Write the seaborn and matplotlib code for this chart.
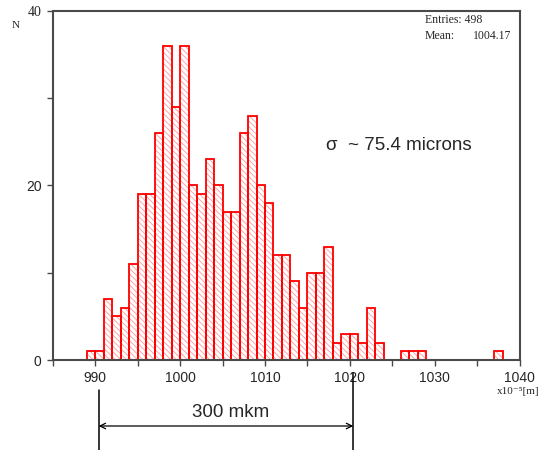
import numpy as np
import pandas as pd
import matplotlib
matplotlib.use("Agg")
import matplotlib.pyplot as plt
from matplotlib.ticker import MultipleLocator
import seaborn as sns

# ── Data (1-unit bins) ───────────────────────────────────────────────────────
bin_left = [989, 990, 991, 992, 993, 994, 995, 996, 997, 998, 999, 1000,
            1001, 1002, 1003, 1004, 1005, 1006, 1007, 1008, 1009, 1010,
            1011, 1012, 1013, 1014, 1015, 1016, 1017, 1018, 1019, 1020,
            1021, 1022, 1023, 1026, 1027, 1028, 1037]
counts = [1, 1, 7, 5, 6, 11, 19, 19, 26, 36, 29, 36,
          20, 19, 23, 20, 17, 17, 26, 28, 20, 18,
          12, 12, 9, 6, 10, 10, 13, 2, 3, 3,
          2, 6, 2, 1, 1, 1, 1]
x_range = (985, 1040)
entries = 498
mean_val = 1004.17
sigma_text = "σ  ~ 75.4 microns"
span_left, span_right = 990.4, 1020.4
span_text = "300 mkm"

df = pd.DataFrame({"x": np.array(bin_left, dtype=float) + 0.5,
                   "n": np.array(counts, dtype=float)})
edges = list(range(x_range[0], x_range[1] + 1))

RED = "#ff0000"
HATCH_RED = "#ff9a9a"
SPINE = "#4a4a4a"

sns.set_style("ticks")
plt.rcParams["font.family"] = ["Liberation Sans", "DejaVu Sans"]
plt.rcParams["hatch.linewidth"] = 0.6

fig = plt.figure(figsize=(5.39, 4.5), dpi=100)
ax = fig.add_axes([0.098, 0.2, 0.866, 0.776])

# hatched fill (light red), then the red outlines on top
sns.histplot(data=df, x="x", weights="n", bins=edges, ax=ax,
             color="white", alpha=1)
for p in ax.patches:
    p.set_edgecolor(HATCH_RED)
    p.set_hatch("\\" * 6)
    p.set_linewidth(0.4)
sns.histplot(data=df, x="x", weights="n", bins=edges, ax=ax,
             fill=False, color=RED, linewidth=1.3)

ax.set_xlim(*x_range)
ax.set_ylim(0, 40)
ax.xaxis.set_major_locator(MultipleLocator(10))
ax.xaxis.set_minor_locator(MultipleLocator(5))
ax.yaxis.set_major_locator(MultipleLocator(20))
ax.yaxis.set_minor_locator(MultipleLocator(10))
ax.tick_params(which="major", length=4, width=1, color=SPINE,
               labelsize=10, pad=4)
ax.tick_params(which="minor", length=4, width=1, color=SPINE)
ax.set_xlabel("")
ax.set_ylabel("")
for s in ax.spines.values():
    s.set_visible(True)
    s.set_color(SPINE)
    s.set_linewidth(1.5)
    s.set_zorder(5)

serif = ["Liberation Serif", "DejaVu Serif"]
fig.canvas.draw()
for lab in ax.get_yticklabels():
    if lab.get_text() == "40":
        lab.set_family(serif)

fig.text(0.022, 0.944, "N", fontsize=8, family=serif, va="center")
fig.text(0.921, 0.129, "x10⁻⁵[m]", fontsize=8, family=serif, va="center")
ax.text(0.797, 0.975, f"Entries: {entries}", transform=ax.transAxes,
        fontsize=8.5, family=serif, va="center")
ax.text(0.797, 0.927, "Mean:", transform=ax.transAxes,
        fontsize=8.5, family=serif, va="center")
ax.text(0.983, 0.927, f"{mean_val:.2f}", transform=ax.transAxes,
        fontsize=8.5, family=serif, va="center", ha="right")
ax.text(0.585, 0.615, sigma_text, transform=ax.transAxes,
        fontsize=13.5, va="center")

# span annotation below the axis
xt = ax.get_xaxis_transform()
ax.plot([span_left, span_left], [-0.086, -0.26], transform=xt,
        color="black", lw=1.1, clip_on=False)
ax.plot([span_right, span_right], [-0.037, -0.26], transform=xt,
        color="black", lw=1.1, clip_on=False)
ax.annotate("", xy=(span_left, -0.189), xytext=(span_right, -0.189),
            xycoords=xt,
            arrowprops=dict(arrowstyle="<->", color="black", lw=0.9,
                            shrinkA=0, shrinkB=0),
            annotation_clip=False)
ax.text((span_left + span_right) / 2 + 0.6, -0.15, span_text,
        transform=xt, ha="center", va="center", fontsize=13.5)

fig.savefig("out.png", dpi=100)
